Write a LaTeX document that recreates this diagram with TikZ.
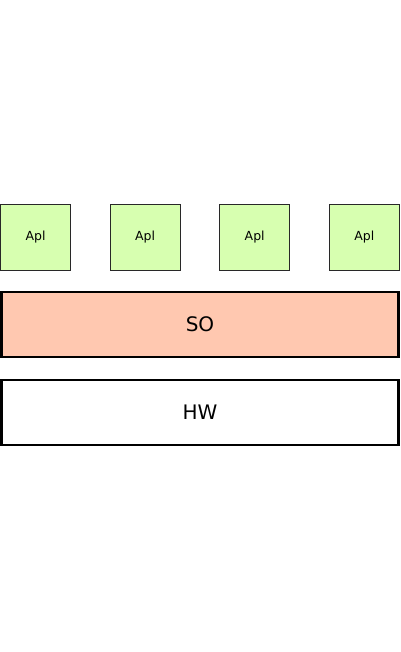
\documentclass[tikz,border=0pt]{standalone}
\usepackage{fontspec}
\setmainfont{DejaVu Sans}
\usepackage{tikz}

\definecolor{aplgreen}{RGB}{215,255,176}
\definecolor{sosalmon}{RGB}{255,200,176}
\definecolor{aplline}{RGB}{40,40,40}

\tikzset{
  aplbox/.style={draw=aplline, line width=1pt, fill=aplgreen, minimum width=70pt,
    minimum height=66pt, inner sep=0pt, font=\fontsize{12.5}{14}\selectfont},
  layerbox/.style={draw=black, line width=2.5pt, minimum width=397pt,
    minimum height=65pt, inner sep=0pt, font=\fontsize{20}{24}\selectfont}
}

\begin{document}
\begin{tikzpicture}[x=1pt,y=-1pt]
    \useasboundingbox (0,0) rectangle (400,652);
    % Draw four application boxes
    \foreach \i in {0,1,2,3} {
      \node[aplbox] (apl\i) at (35.5+109.6*\i,237.5) {Apl};
    }
    % Draw operating system and hardware layers
    \node[layerbox, fill=sosalmon] (so) at (200,324.5) {SO};
    \node[layerbox, fill=white] (hw) at (200,412.5) {HW};
  \end{tikzpicture}
\end{document}
